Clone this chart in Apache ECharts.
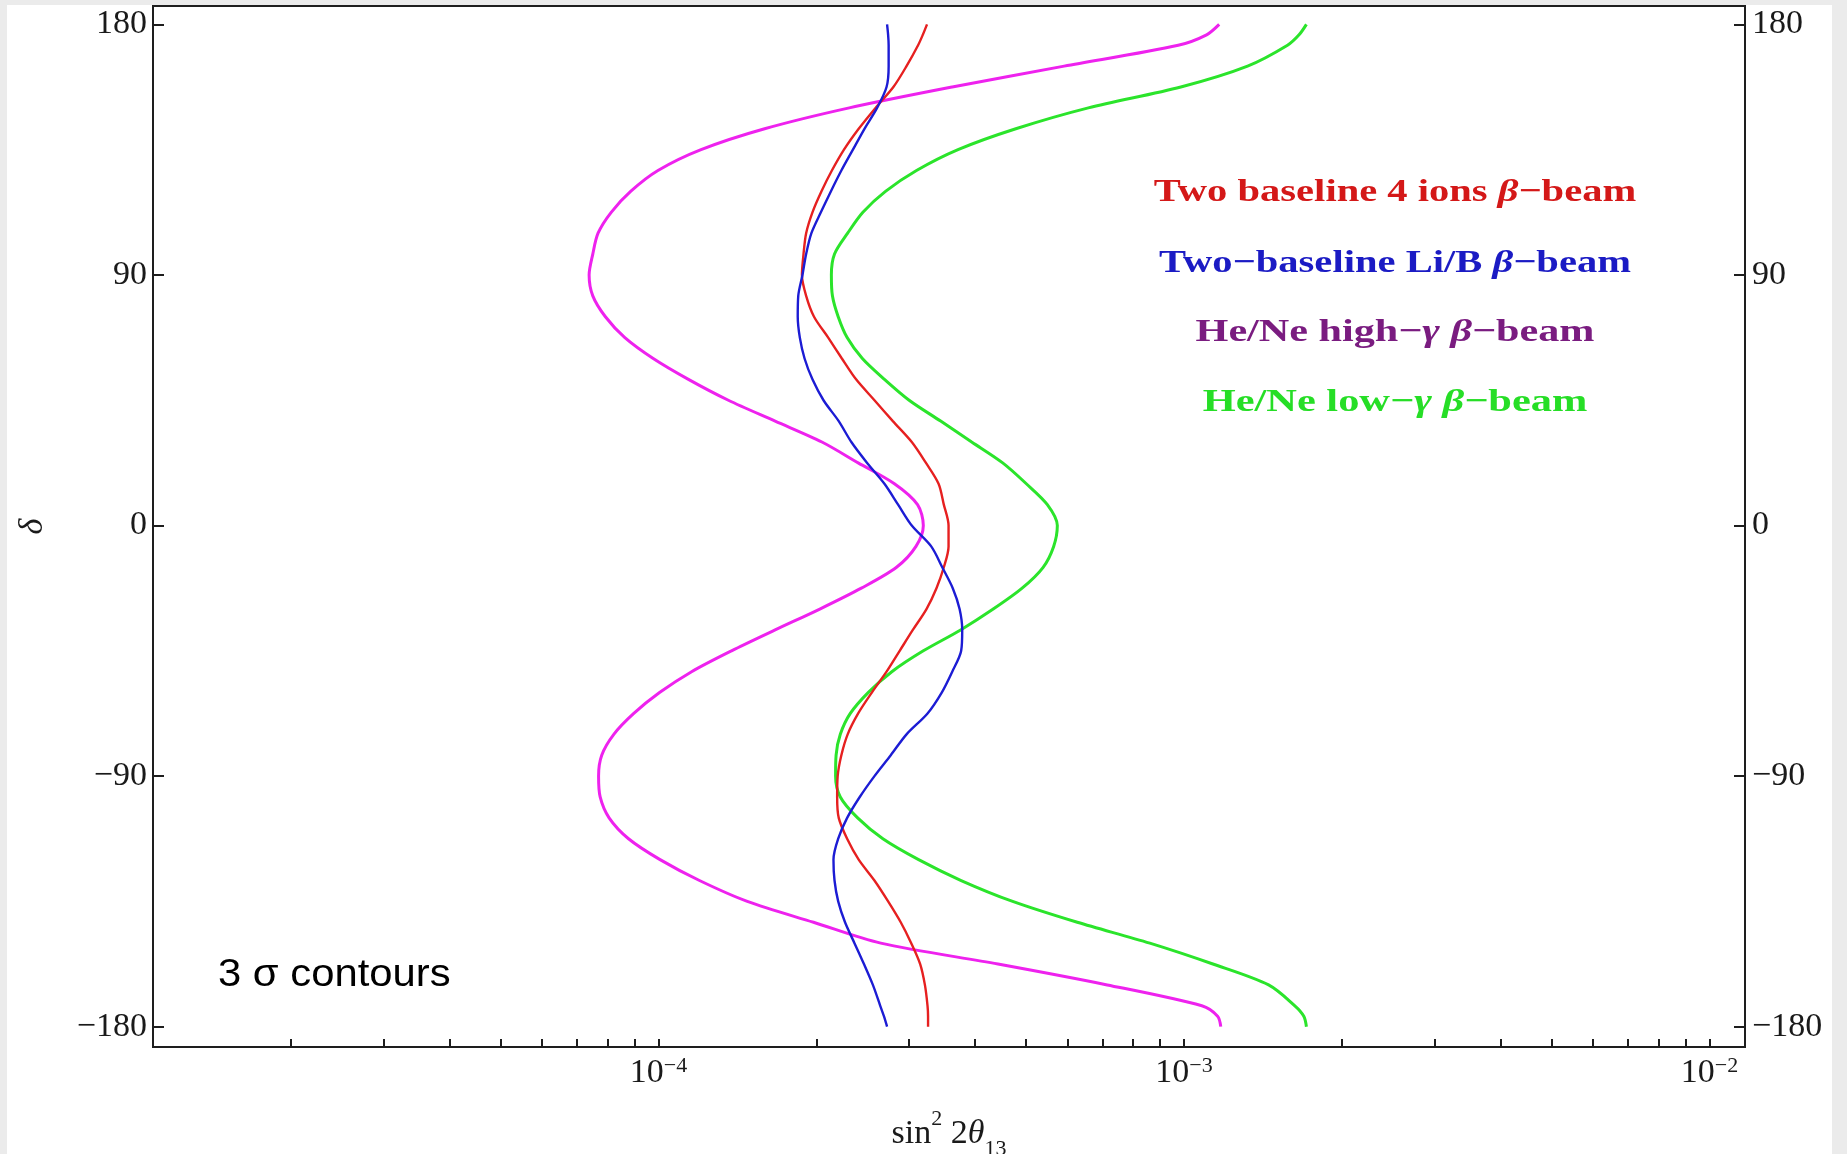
<!DOCTYPE html>
<html>
<head>
<meta charset="utf-8">
<title>3σ contours in the (sin² 2θ13, δ) plane</title>
<script src="https://cdn.jsdelivr.net/npm/echarts@6/dist/echarts.min.js"></script>
<style>
  html, body { margin: 0; padding: 0; background: #ebebeb; }
  #chart { position: absolute; left: 7px; top: 5px; width: 1825px; height: 1149px; }
</style>
</head>
<body>
<div id="chart"></div>
<script>
// CP phase δ (degrees), 7.5° steps from 180 down to -180, plus one extra point near each end
const delta = [180, 176.25, 172.5, 165, 157.5, 150, 142.5, 135, 127.5, 120, 112.5, 105, 97.5, 90,
  82.5, 75, 67.5, 60, 52.5, 45, 37.5, 30, 22.5, 15, 7.5, 0,
  -7.5, -15, -22.5, -30, -37.5, -45, -52.5, -60, -67.5, -75, -82.5, -90,
  -97.5, -105, -112.5, -120, -127.5, -135, -142.5, -150, -157.5, -165, -172.5, -176.25, -180];

// log10(sin² 2θ13) on each 3σ contour, one value per δ above
const log10TwoBaseline4Ions = [-3.489, -3.497, -3.506, -3.528, -3.553, -3.587, -3.619, -3.647, -3.670, -3.690,
  -3.707, -3.719, -3.724, -3.727, -3.719, -3.704, -3.677, -3.651, -3.624, -3.589, -3.554, -3.518,
  -3.491, -3.467, -3.457, -3.448, -3.448, -3.457, -3.471, -3.490, -3.516, -3.541, -3.566, -3.594,
  -3.620, -3.640, -3.652, -3.659, -3.660, -3.657, -3.641, -3.619, -3.589, -3.563, -3.539, -3.519,
  -3.502, -3.493, -3.488, -3.487, -3.487];
const log10TwoBaselineLiB = [-3.565, -3.563, -3.562, -3.562, -3.566, -3.584, -3.608, -3.630, -3.652, -3.672,
  -3.691, -3.709, -3.719, -3.726, -3.734, -3.735, -3.731, -3.722, -3.707, -3.686, -3.657, -3.633,
  -3.603, -3.570, -3.544, -3.518, -3.481, -3.460, -3.440, -3.427, -3.422, -3.424, -3.441, -3.461,
  -3.488, -3.528, -3.558, -3.589, -3.617, -3.641, -3.658, -3.667, -3.665, -3.658, -3.645, -3.627,
  -3.609, -3.592, -3.578, -3.571, -3.565];
const log10HeNeHighGamma = [-2.933, -2.957, -3.011, -3.228, -3.441, -3.637, -3.798, -3.919, -4.001, -4.053,
  -4.090, -4.115, -4.125, -4.132, -4.125, -4.101, -4.064, -4.010, -3.943, -3.867, -3.778, -3.689,
  -3.620, -3.551, -3.507, -3.496, -3.510, -3.547, -3.614, -3.693, -3.778, -3.861, -3.937, -3.998,
  -4.047, -4.085, -4.108, -4.114, -4.111, -4.094, -4.057, -3.997, -3.922, -3.831, -3.705, -3.577,
  -3.354, -3.146, -2.966, -2.936, -2.930];
const log10HeNeLowGamma = [-2.767, -2.781, -2.803, -2.879, -3.006, -3.182, -3.320, -3.430, -3.509, -3.568,
  -3.611, -3.640, -3.665, -3.671, -3.669, -3.658, -3.641, -3.612, -3.570, -3.523, -3.463, -3.404,
  -3.345, -3.300, -3.260, -3.241, -3.248, -3.268, -3.308, -3.363, -3.425, -3.496, -3.556, -3.601,
  -3.635, -3.654, -3.662, -3.663, -3.654, -3.621, -3.573, -3.505, -3.424, -3.326, -3.203, -3.065,
  -2.945, -2.839, -2.789, -2.772, -2.767];

// axis ticks (sin² 2θ13 values and δ values)
const xLabelDecades = [1e-4, 1e-3, 1e-2];
const xTickValues = [
  2e-5, 3e-5, 4e-5, 5e-5, 6e-5, 7e-5, 8e-5, 9e-5,
  1e-4, 2e-4, 3e-4, 4e-4, 5e-4, 6e-4, 7e-4, 8e-4, 9e-4,
  1e-3, 2e-3, 3e-3, 4e-3, 5e-3, 6e-3, 7e-3, 8e-3, 9e-3, 1e-2
];
const yTickValues = [-180, -90, 0, 90, 180];

// plotted range
const xRange = [1.0917e-5, 1.1684e-2];
const yRange = [-187.3, 186.6];

const lg = Math.log10;
const pairs = vals => vals.map((v, i) => [v, delta[i]]);

const AXIS = '#1e1e1e';
const SERIF = '"Liberation Serif", "Times New Roman", serif';

function xLabel(v) {
  const e = Math.round(v);
  return '{b|10}{s|\u2212' + (-e) + '}';
}
function yLabel(v) {
  return v < 0 ? '\u2212' + (-v) : String(v);
}

const yAxisCommon = {
  type: 'value',
  min: yRange[0],
  max: yRange[1],
  splitLine: { show: false },
  axisLine: { show: true, onZero: false, lineStyle: { color: AXIS, width: 2 } },
  axisTick: { show: true, inside: true, length: 11, customValues: yTickValues,
              lineStyle: { color: AXIS, width: 2 } },
  axisLabel: { customValues: yTickValues, formatter: yLabel, color: '#1a1a1a',
               fontFamily: SERIF, fontSize: 34, margin: 6 }
};

const legendLines = [
  { y: 188, sx: 1.267, color: '#d41818', text: '{n|Two baseline 4 ions }{g|\u03b2}{n|\u2212beam}' },
  { y: 258.5, sx: 1.268, color: '#1b1bc4', text: '{n|Two\u2212baseline Li/B }{g|\u03b2}{n|\u2212beam}' },
  { y: 328, sx: 1.318, color: '#7a1c80', text: '{n|He/Ne high\u2212}{g|\u03b3 \u03b2}{n|\u2212beam}' },
  { y: 398, sx: 1.326, color: '#26de26', text: '{n|He/Ne low\u2212}{g|\u03b3 \u03b2}{n|\u2212beam}' }
];

const chart = echarts.init(document.getElementById('chart'), null, { renderer: 'canvas' });

chart.setOption({
  backgroundColor: '#ffffff',
  animation: false,
  grid: {
    left: 146, top: 1, width: 1592, height: 1041,
    outerBoundsMode: 'none',
    containLabel: false,
    show: true, borderColor: AXIS, borderWidth: 2, backgroundColor: 'transparent'
  },
  xAxis: {
    type: 'value',
    min: lg(xRange[0]),
    max: lg(xRange[1]),
    name: '{m|sin}{p|2}{m| 2}{t|\u03b8}{q|13}',
    nameLocation: 'middle',
    nameGap: 61,
    nameTextStyle: {
      rich: {
        m: { fontFamily: SERIF, fontSize: 34, lineHeight: 52, color: '#1a1a1a' },
        p: { fontFamily: SERIF, fontSize: 22, lineHeight: 22, verticalAlign: 'top', color: '#1a1a1a' },
        t: { fontFamily: SERIF, fontSize: 34, lineHeight: 52, fontStyle: 'italic', color: '#1a1a1a' },
        q: { fontFamily: SERIF, fontSize: 22, lineHeight: 44, verticalAlign: 'bottom', color: '#1a1a1a' }
      }
    },
    splitLine: { show: false },
    axisLine: { show: true, onZero: false, lineStyle: { color: AXIS, width: 2 } },
    axisTick: { show: true, inside: true, length: 8, customValues: xTickValues.map(lg),
                lineStyle: { color: AXIS, width: 2 } },
    axisLabel: {
      customValues: xLabelDecades.map(lg),
      formatter: xLabel,
      margin: 8,
      rich: {
        b: { fontFamily: SERIF, fontSize: 34, lineHeight: 36, color: '#1a1a1a' },
        s: { fontFamily: SERIF, fontSize: 22, lineHeight: 22, verticalAlign: 'top', color: '#1a1a1a' }
      }
    }
  },
  yAxis: [
    Object.assign({}, yAxisCommon, {
      position: 'left',
      name: '\u03b4',
      nameLocation: 'middle',
      nameRotate: 90,
      nameGap: 103,
      nameTextStyle: { fontFamily: SERIF, fontSize: 34, fontStyle: 'italic', color: '#1a1a1a' }
    }),
    Object.assign({}, yAxisCommon, { position: 'right', axisLabel: Object.assign({}, yAxisCommon.axisLabel, { margin: 7 }) })
  ],
  series: [
    { name: 'He/Ne low-\u03b3 \u03b2-beam', type: 'line', data: pairs(log10HeNeLowGamma),
      showSymbol: false, smooth: 0.3, lineStyle: { color: '#2be42b', width: 3 }, z: 2 },
    { name: 'He/Ne high-\u03b3 \u03b2-beam', type: 'line', data: pairs(log10HeNeHighGamma),
      showSymbol: false, smooth: 0.3, lineStyle: { color: '#ee22ee', width: 3 }, z: 3 },
    { name: 'Two baseline 4 ions \u03b2-beam', type: 'line', data: pairs(log10TwoBaseline4Ions),
      showSymbol: false, smooth: 0.3, lineStyle: { color: '#e62020', width: 2.4 }, z: 4 },
    { name: 'Two-baseline Li/B \u03b2-beam', type: 'line', data: pairs(log10TwoBaselineLiB),
      showSymbol: false, smooth: 0.3, lineStyle: { color: '#1c1cd4', width: 2.4 }, z: 5 }
  ],
  graphic: {
    elements: legendLines.map(l => ({
      type: 'text',
      x: 1388,
      y: l.y,
      scaleX: l.sx,
      z: 10,
      style: {
        text: l.text,
        align: 'center', verticalAlign: 'middle',
        textAlign: 'center', textVerticalAlign: 'middle',
        rich: {
          n: { fontFamily: SERIF, fontSize: 32, fontWeight: 'bold', fill: l.color },
          g: { fontFamily: SERIF, fontSize: 32, fontWeight: 'bold', fontStyle: 'italic', fill: l.color }
        }
      }
    })).concat([{
      type: 'text',
      x: 211,
      y: 970.5,
      scaleX: 1.1,
      z: 10,
      style: {
        text: '3 \u03c3 contours',
        fontFamily: '"Liberation Sans", Arial, sans-serif',
        fontSize: 38,
        fill: '#000000',
        align: 'left', verticalAlign: 'middle',
        textAlign: 'left', textVerticalAlign: 'middle'
      }
    }])
  }
});
</script>
</body>
</html>
